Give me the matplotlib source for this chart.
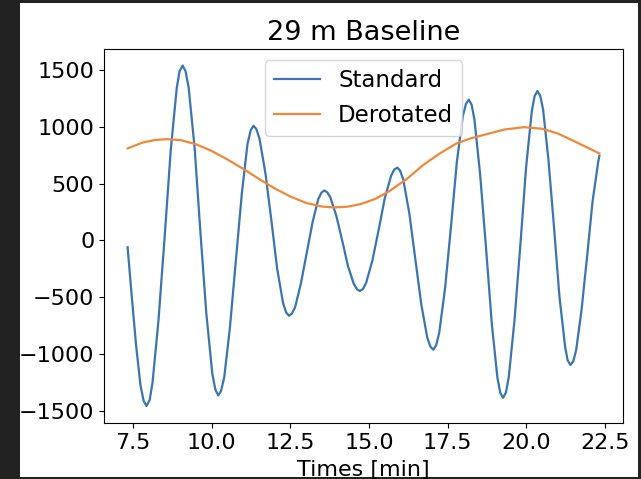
import matplotlib
matplotlib.use("Agg")
import matplotlib.pyplot as plt
from matplotlib.patches import Rectangle

# standard (non-derotated) visibility
t_std = [7.33, 7.46, 7.60, 7.74, 7.84,
         7.93, 8.03, 8.12, 8.31, 8.51, 8.70, 8.89, 8.98,
         9.08, 9.17, 9.27, 9.46, 9.64, 9.83, 10.02, 10.12,
         10.21, 10.30, 10.40, 10.58, 10.77, 10.96, 11.14, 11.24,
         11.33, 11.42, 11.52, 11.71, 11.90, 12.08, 12.27, 12.37,
         12.46, 12.55, 12.65, 12.83, 13.02, 13.21, 13.39, 13.49,
         13.58, 13.67, 13.77, 13.96, 14.15, 14.33, 14.52, 14.62,
         14.71, 14.81, 14.91, 15.11, 15.31, 15.50, 15.70, 15.80,
         15.90, 15.99, 16.09, 16.28, 16.47, 16.66, 16.85, 16.95,
         17.04, 17.13, 17.23, 17.42, 17.61, 17.79, 17.98, 18.08,
         18.17, 18.26, 18.35, 18.53, 18.72, 18.90, 19.08, 19.17,
         19.26, 19.35, 19.44, 19.62, 19.81, 19.99, 20.17, 20.26,
         20.35, 20.44, 20.53, 20.70, 20.88, 21.05, 21.23, 21.31,
         21.40, 21.49, 21.58, 21.75, 21.93, 22.10, 22.28, 22.32]
v_std = [-60, -484, -923, -1275, -1412,
         -1456, -1405, -1255, -708, 41, 790, 1337, 1487,
         1538, 1489, 1344, 813, 87, -638, -1169, -1314,
         -1363, -1323, -1204, -770, -177, 415, 849, 968,
         1008, 980, 896, 590, 172, -245, -551, -635,
         -663, -644, -589, -387, -112, 164, 365, 420,
         439, 424, 380, 218, -3, -224, -386, -430,
         -445, -427, -372, -174, 98, 369, 567, 622,
         640, 613, 533, 240, -161, -561, -854, -934,
         -961, -924, -814, -411, 139, 688, 1091, 1201,
         1238, 1193, 1062, 582, -73, -729, -1208, -1339,
         -1384, -1338, -1203, -709, -35, 640, 1133, 1268,
         1314, 1273, 1153, 712, 109, -493, -934, -1054,
         -1095, -1063, -967, -617, -139, 338, 688, 745]

# derotated
t_der = [7.33, 7.8, 8.2, 8.57, 9.0, 9.5, 10.0, 10.5, 11.0, 11.5, 12.0,
         12.5, 13.0, 13.5, 13.88, 14.3, 14.73, 15.2, 15.66, 16.2, 16.72,
         17.25, 17.78, 18.2, 18.73, 19.3, 19.92, 20.5, 21.0, 21.5, 22.0, 22.32]
v_der = [809, 860, 883, 890, 883, 846, 787, 712, 630, 541, 458,
         386, 330, 298, 290, 296, 319, 365, 436, 540, 663,
         765, 853, 895, 934, 975, 996, 982, 940, 875, 808, 765]

dark = '#222222'
fig = plt.figure(figsize=(6.41, 4.79), dpi=100, facecolor=dark)
# white figure area inside the screenshot frame
fig.patches.append(Rectangle((20/641, 2/479), 618/641, 474/479,
                             transform=fig.transFigure, facecolor='white',
                             edgecolor='none', zorder=-1))

ax = fig.add_axes([104/641, 56/479, 519/641, 374.5/479])
ax.plot(t_std, v_std, color='#3a75b0', lw=1.6, label='Standard')
ax.plot(t_der, v_der, color='#f0883a', lw=1.6, label='Derotated')

ax.set_title('29 m Baseline', fontsize=19.5)
ax.set_xlabel('Times [min]', fontsize=16, labelpad=5)
ax.tick_params(labelsize=16)
ax.legend(loc='upper center', fontsize=16.5)

fig.savefig('out.png', dpi=100, facecolor=fig.get_facecolor())
